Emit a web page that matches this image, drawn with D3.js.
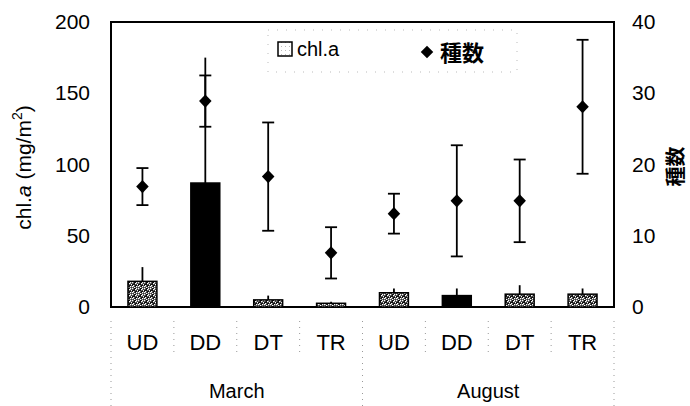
<!DOCTYPE html>
<html>
<head>
<meta charset="utf-8">
<script src="https://cdn.jsdelivr.net/npm/d3@7"></script>
<style>
  body { margin: 0; background: #fff; }
  svg { font-family: "Liberation Sans", Arial, sans-serif; }
</style>
</head>
<body>
<div id="chart"></div>
<script>
const width = 690;
const height = 406;
const margin = { top: 22, right: 76, bottom: 99, left: 111 };

// data
const groups = ["March", "August"];
const sites = ["UD", "DD", "DT", "TR"];
const chlA = [18, 87, 5, 2.6, 10, 8, 9, 9];
const chlAErr = [10, 88, 3, 1.1, 3, 5, 6.3, 4];
const species = [16.9, 28.9, 18.3, 7.6, 13.1, 14.9, 14.9, 28.1];
const speciesErr = [2.6, 3.6, 7.6, 3.6, 2.8, 7.8, 5.8, 9.4];
const leftTicks = [0, 50, 100, 150, 200];
const rightTicks = [0, 10, 20, 30, 40];

const rows = [];
groups.forEach((g, gi) => sites.forEach((s, si) => {
    const i = gi * sites.length + si;
    rows.push({ key: g + "-" + s, group: g, site: s, chl: chlA[i], chlErr: chlAErr[i],
        sp: species[i], spErr: speciesErr[i] });
}));

const svg = d3.select("#chart").append("svg")
    .attr("width", width)
    .attr("height", height);

const x0 = margin.left;
const x1 = width - margin.right;
const y0 = height - margin.bottom;
const y1 = margin.top;

const x = d3.scaleBand()
    .domain(rows.map(d => d.key))
    .range([x0, x1])
    .paddingInner(0.54)
    .paddingOuter(0.27);

const yLeft = d3.scaleLinear().domain([0, 200]).range([y0, y1]);
const yRight = d3.scaleLinear().domain([0, 40]).range([y0, y1]);

// stipple pattern for the chl.a bars
const defs = svg.append("defs");
const pat = defs.append("pattern")
    .attr("id", "stipple")
    .attr("patternUnits", "userSpaceOnUse")
    .attr("width", 6).attr("height", 6);
pat.append("rect").attr("width", 6).attr("height", 6).attr("fill", "#111");
[[0, 0], [3, 1], [1, 3], [4, 4], [2, 5], [5, 2], [0, 4], [4, 0]].forEach(p => {
    pat.append("rect").attr("x", p[0]).attr("y", p[1]).attr("width", 1.4).attr("height", 1.4).attr("fill", "#fff");
});
const patLight = defs.append("pattern")
    .attr("id", "stippleLight")
    .attr("patternUnits", "userSpaceOnUse")
    .attr("width", 4).attr("height", 4);
patLight.append("rect").attr("width", 4).attr("height", 4).attr("fill", "#fff");
patLight.append("rect").attr("x", 1).attr("y", 2).attr("width", 1).attr("height", 1).attr("fill", "#bbb");

// separators below the axis
const sepLines = d3.range(0, rows.length + 1).map(i => ({
    x: x0 + i * (x1 - x0) / rows.length,
    major: i === 0 || i === rows.length || i === sites.length
}));
svg.append("g").selectAll("line")
    .data(sepLines)
    .join("line")
    .attr("x1", d => d.x).attr("x2", d => d.x)
    .attr("y1", y0 + 14)
    .attr("y2", d => d.major ? height : y0 + 50)
    .attr("stroke", "#999")
    .attr("stroke-width", 1)
    .attr("stroke-dasharray", "1,5");

// frame
svg.append("rect")
    .attr("x", x0).attr("y", y1)
    .attr("width", x1 - x0).attr("height", y0 - y1)
    .attr("fill", "none")
    .attr("stroke", "#000")
    .attr("stroke-width", 2);

// chl.a bars
svg.append("g").selectAll("rect")
    .data(rows)
    .join("rect")
    .attr("x", d => x(d.key))
    .attr("y", d => yLeft(d.chl))
    .attr("width", x.bandwidth())
    .attr("height", d => y0 - yLeft(d.chl))
    .attr("fill", d => d.site === "DD" ? "#000" : "url(#stipple)")
    .attr("stroke", "#000")
    .attr("stroke-width", 1.5);

// chl.a error (upper only)
svg.append("g").selectAll("line")
    .data(rows)
    .join("line")
    .attr("x1", d => x(d.key) + x.bandwidth() / 2)
    .attr("x2", d => x(d.key) + x.bandwidth() / 2)
    .attr("y1", d => yLeft(d.chl))
    .attr("y2", d => yLeft(d.chl + d.chlErr))
    .attr("stroke", "#000")
    .attr("stroke-width", 1.8);

// species error bars
const cap = 6;
const err = svg.append("g").selectAll("g")
    .data(rows)
    .join("g")
    .attr("transform", d => `translate(${x(d.key) + x.bandwidth() / 2},0)`);
err.append("line")
    .attr("y1", d => yRight(d.sp - d.spErr))
    .attr("y2", d => yRight(d.sp + d.spErr))
    .attr("stroke", "#000").attr("stroke-width", 1.8);
err.append("line")
    .attr("x1", -cap).attr("x2", cap)
    .attr("y1", d => yRight(d.sp + d.spErr)).attr("y2", d => yRight(d.sp + d.spErr))
    .attr("stroke", "#000").attr("stroke-width", 1.8);
err.append("line")
    .attr("x1", -cap).attr("x2", cap)
    .attr("y1", d => yRight(d.sp - d.spErr)).attr("y2", d => yRight(d.sp - d.spErr))
    .attr("stroke", "#000").attr("stroke-width", 1.8);

const diamond = d3.symbol().type(d3.symbolDiamond2).size(100);
err.append("path")
    .attr("d", diamond)
    .attr("transform", d => `translate(0,${yRight(d.sp)}) scale(1,1.05)`)
    .attr("fill", "#000");

// axes
const axisL = svg.append("g")
    .attr("transform", `translate(${x0},0)`)
    .call(d3.axisLeft(yLeft).tickValues(leftTicks).tickSize(0).tickPadding(21));
axisL.select(".domain").remove();
axisL.selectAll("text").attr("font-size", 21).attr("font-family", "Liberation Sans, Arial, sans-serif").attr("fill", "#000");

const axisR = svg.append("g")
    .attr("transform", `translate(${x1},0)`)
    .call(d3.axisRight(yRight).tickValues(rightTicks).tickSize(0).tickPadding(18));
axisR.select(".domain").remove();
axisR.selectAll("text").attr("font-size", 21).attr("font-family", "Liberation Sans, Arial, sans-serif").attr("fill", "#000");

// category labels
svg.append("g").selectAll("text")
    .data(rows)
    .join("text")
    .attr("x", d => x(d.key) + x.bandwidth() / 2)
    .attr("y", y0 + 43)
    .attr("text-anchor", "middle")
    .attr("font-size", 22)
    .text(d => d.site);

// group labels
svg.append("g").selectAll("text")
    .data(groups)
    .join("text")
    .attr("x", (d, i) => x0 + (i + 0.5) * (x1 - x0) / groups.length)
    .attr("y", y0 + 91)
    .attr("text-anchor", "middle")
    .attr("font-size", 20)
    .text(d => d);

// axis titles
const tL = svg.append("text")
    .attr("transform", `translate(31,${(y0 + y1) / 2 + 3}) rotate(-90)`)
    .attr("text-anchor", "middle")
    .attr("font-size", 21);
tL.append("tspan").text("chl.");
tL.append("tspan").attr("font-style", "italic").text("a");
tL.append("tspan").text(" (mg/m");
tL.append("tspan").attr("font-size", 14).attr("dy", -9).text("2");
tL.append("tspan").attr("dy", 9).text(")");

svg.append("text")
    .attr("transform", `translate(683,${(y0 + y1) / 2 + 2}) rotate(-90)`)
    .attr("text-anchor", "middle")
    .attr("font-family", "Noto Sans CJK JP, sans-serif")
    .attr("font-weight", "bold")
    .attr("font-size", 20)
    .text("種数");

// legend
const lg = svg.append("g");
lg.append("rect")
    .attr("x", 268).attr("y", 30)
    .attr("width", 249).attr("height", 42)
    .attr("fill", "none")
    .attr("stroke", "#bbb")
    .attr("stroke-width", 1)
    .attr("stroke-dasharray", "1,8");
lg.append("rect")
    .attr("x", 278).attr("y", 42)
    .attr("width", 14).attr("height", 14)
    .attr("fill", "url(#stippleLight)")
    .attr("stroke", "#000")
    .attr("stroke-width", 1.5);
lg.append("text")
    .attr("x", 297).attr("y", 56)
    .attr("font-size", 20)
    .text("chl.a");
lg.append("path")
    .attr("d", diamond)
    .attr("transform", "translate(427,52)")
    .attr("fill", "#000");
lg.append("text")
    .attr("x", 440).attr("y", 61)
    .attr("font-family", "Noto Sans CJK JP, sans-serif")
    .attr("font-weight", "bold")
    .attr("font-size", 22)
    .text("種数");
</script>
</body>
</html>
